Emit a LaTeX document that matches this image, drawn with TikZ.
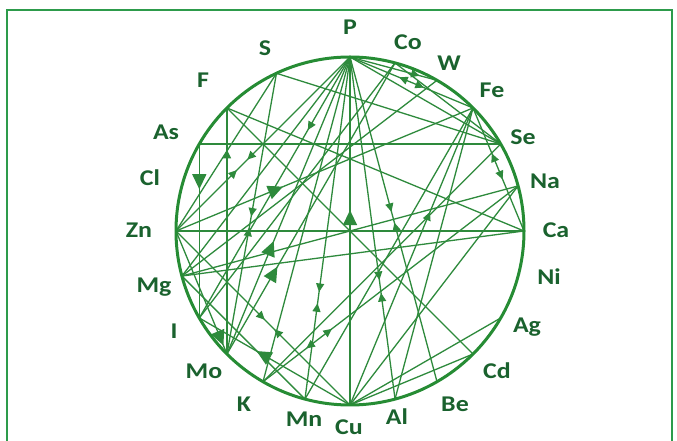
\documentclass[tikz,border=0pt]{standalone}
\usepackage{fontspec}
\setmainfont{Carlito}
\usetikzlibrary{calc,decorations.markings,arrows.meta}
\definecolor{lg}{RGB}{46,138,60}
\definecolor{cg}{RGB}{38,140,52}
\definecolor{tg}{RGB}{26,98,46}
\definecolor{fg}{RGB}{45,155,75}
\tikzset{
 chord/.style={lg, line width=1.3pt},
 fa/.style={postaction={decorate,decoration={markings,mark=at position #1 with {\arrow{Triangle[length=8.5pt,width=8pt]}}}}},
 ba/.style={postaction={decorate,decoration={markings,mark=at position #1 with {\arrowreversed{Triangle[length=8.5pt,width=8pt]}}}}},
 bfa/.style={postaction={decorate,decoration={markings,mark=at position #1 with {\arrow{Triangle[length=15pt,width=14pt]}}}}},
 bba/.style={postaction={decorate,decoration={markings,mark=at position #1 with {\arrowreversed{Triangle[length=15pt,width=14pt]}}}}},
 lbl/.style={text=tg, font=\bfseries\fontsize{22.5}{22.5}\selectfont, inner sep=0pt}
}
\begin{document}
\begin{tikzpicture}[x=1pt,y=1pt]
\useasboundingbox (0,0) rectangle (677,441);
\fill[white] (0,0) rectangle (677,441);
\draw[fg, line width=1.3pt] (7,-5) -- (7,431) -- (672,431) -- (672,-5);
\coordinate (C) at (350,210);
\foreach \n/\a in {P/90,Co/75,W/60,Fe/45,Se/30,Na/15,Ca/0,Ni/-15,Ag/-30,Cd/-45,Be/-60,Al/-75,Cu/-90,Mn/-105,K/-120,Mo/-135,I/-150,Mg/-165,Zn/180,Cl/165,As/150,F/135,S/115}
  \coordinate (\n) at ($(C)+(\a:174)$);
% chords
\draw[chord] (As) -- (Se);
\draw[chord] (Zn) -- (Ca);
\draw[chord,bba=0.44] (P) -- (Cu);
\draw[chord,bfa=0.26] (As) -- (I);
\draw[chord,ba=0.37,fa=0.58] (Fe) -- (Ca);
\draw[chord,fa=0.51,ba=0.55] (S) -- (Mo);
\draw[chord,fa=0.687,ba=0.72] (P) -- (Mn);
\draw[chord,fa=0.652,ba=0.69] (P) -- (Al);
\draw[chord,fa=0.477,ba=0.51] (P) -- (Be);
\draw[chord,fa=0.51,ba=0.565] (Zn) -- (Cu);
\draw[chord,ba=0.73,fa=0.83] (Na) -- (K);
\draw[chord,bfa=0.62] (Cu) -- (I);
\draw[chord,bba=0.62] (P) -- (Mo);
\draw[chord,bba=0.70] (Co) -- (Mo);
\draw[chord,bfa=0.36] (Zn) -- (Fe);
\draw[chord,fa=0.28] (P) -- (I);
\draw[chord,fa=0.59,ba=0.65] (P) -- (Zn);
\draw[chord,ba=0.40,fa=0.60] (P) -- (Fe);
\draw[chord,fa=0.80] (P) -- (W);
\draw[chord,ba=0.17] (F) -- (Mo);
\draw[chord,fa=0.65] (Cu) -- (Fe);
\draw[chord,bfa=0.93] (Zn) -- (Mo);
\draw[chord] (F) -- (Cd);
\draw[chord] (S) -- (Se);
\draw[chord] (Mg) -- (Ca);
\draw[chord] (Mg) -- (Na);
\draw[chord] (Cu) -- (Ag);
\draw[chord] (Cu) -- (Cd);
\draw[chord] (Cu) -- (Na);
\draw[chord] (Al) -- (Fe);
\draw[chord] (P) -- (Se);
\draw[chord] (P) -- (K);
\draw[chord] (P) -- (Mg);
\draw[chord] (W) -- (Mg);
\draw[chord] (Co) -- (Se);
\draw[chord] (Zn) -- (S);
\draw[chord] (F) -- (Ca);
\draw[chord] (Mg) -- (Mn);
\draw[chord] (I) -- (Co);
\draw[chord] (Mn) -- (Fe);
\draw[chord] (K) -- (Se);
% circle
\draw[cg, line width=3pt] (C) circle (174);
% labels
\foreach \n/\x/\y in {P/350/414,Co/408/399,W/449/378,Fe/492/351,Se/523/304,Na/545/260,Ca/556/211,Ni/549/164,Ag/527/114,Cd/497/70,Be/455/37,Al/397/24,Cu/349/14,Mn/304/22,K/244/37,Mo/204/70,I/174/110,Mg/154/154,Zn/139/211,Cl/150/263,As/166/309,F/203/361,S/265/393}
  \node[lbl] (l\n) at (\x,\y) {\scalebox{1.15}[1]{\n}};
\end{tikzpicture}
\end{document}
